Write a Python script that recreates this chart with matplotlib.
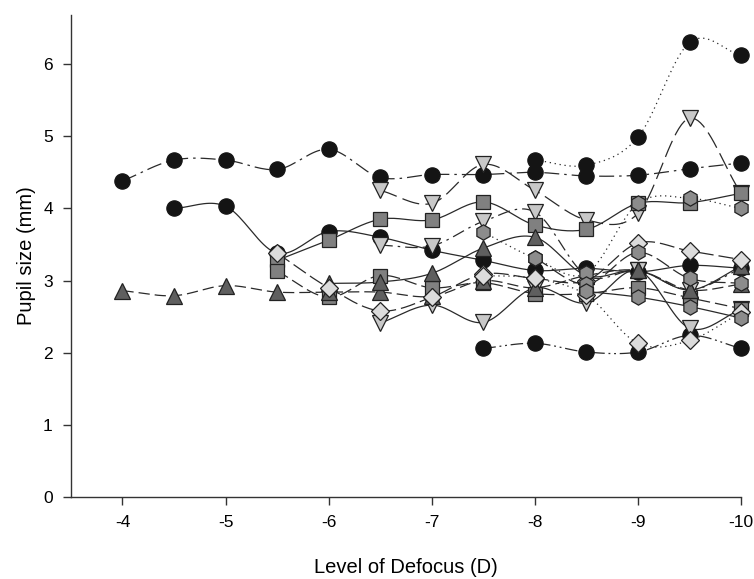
import numpy as np
import matplotlib.pyplot as plt

plt.rcParams['font.family'] = ['Liberation Sans', 'DejaVu Sans']

# defocus levels (D)
x_all = [-4, -4.5, -5, -5.5, -6, -6.5, -7, -7.5, -8, -8.5, -9, -9.5, -10]

# black circles
c1_x = x_all
c1_y = [4.38, 4.67, 4.67, 4.54, 4.82, 4.43, 4.47, 4.47, 4.50, 4.45, 4.46, 4.55, 4.63]
c2_x = [-8, -8.5, -9, -9.5, -10]
c2_y = [4.67, 4.60, 4.99, 6.30, 6.12]
c3_x = [-4.5, -5, -5.5, -6, -6.5, -7, -7.5, -8, -8.5, -9, -9.5, -10]
c3_y = [4.00, 4.03, 3.38, 3.68, 3.60, 3.42, 3.28, 3.14, 3.17, 3.12, 3.21, 3.17]
c4_x = [-7.5, -8, -8.5, -9, -9.5, -10]
c4_y = [2.06, 2.13, 2.01, 2.01, 2.24, 2.06]

# inverted triangles
t1_x = [-6.5, -7, -7.5, -8, -8.5, -9, -9.5, -10]
t1_y = [4.25, 4.07, 4.61, 4.25, 3.84, 3.93, 5.25, 4.21]
t2_x = [-6.5, -7, -7.5, -8, -8.5, -9, -9.5, -10]
t2_y = [3.49, 3.48, 3.82, 3.95, 3.07, 3.14, 2.87, 3.17]
t3_x = [-6.5, -7, -7.5, -8, -8.5, -9, -9.5, -10]
t3_y = [2.41, 2.66, 2.42, 2.90, 2.69, 3.14, 2.34, 2.60]

# squares
s1_x = [-5.5, -6, -6.5, -7, -7.5, -8, -8.5, -9, -9.5, -10]
s1_y = [3.28, 3.56, 3.85, 3.84, 4.09, 3.77, 3.71, 4.07, 4.08, 4.21]
s2_x = [-5.5, -6, -6.5, -7, -7.5, -8, -8.5, -9, -9.5, -10]
s2_y = [3.13, 2.77, 3.07, 2.90, 2.97, 2.82, 2.82, 2.90, 2.76, 2.61]

# triangles
u1_x = [-4, -4.5, -5, -5.5, -6, -6.5, -7, -7.5, -8, -8.5, -9, -9.5, -10]
u1_y = [2.86, 2.79, 2.93, 2.84, 2.84, 2.84, 2.78, 3.00, 2.90, 3.07, 3.14, 2.87, 2.95]
u2_x = [-6, -6.5, -7, -7.5, -8, -8.5, -9, -9.5, -10]
u2_y = [2.96, 2.98, 3.10, 3.45, 3.60, 3.07, 3.14, 2.87, 3.20]

# diamonds
d1_x = [-5.5, -6, -6.5, -7, -7.5, -8, -8.5, -9, -9.5, -10]
d1_y = [3.38, 2.90, 2.58, 2.77, 3.09, 3.03, 3.00, 3.52, 3.41, 3.29]
d2_x = [-7.5, -8, -8.5, -9, -9.5, -10]
d2_y = [3.07, 3.03, 2.80, 2.13, 2.17, 2.56]

# hexagons
h1_x = [-7.5, -8, -8.5, -9, -9.5, -10]
h1_y = [3.67, 3.31, 3.10, 4.07, 4.14, 4.00]
h2_x = [-8, -8.5, -9, -9.5, -10]
h2_y = [3.31, 2.95, 3.39, 3.03, 2.96]
h3_x = [-8.5, -9, -9.5, -10]
h3_y = [2.85, 2.77, 2.64, 2.48]

series = [
    (c1_x, c1_y, 'o', '#141414', (0, (12, 4, 2, 4))),
    (c2_x, c2_y, 'o', '#141414', (0, (1, 3))),
    (c3_x, c3_y, 'o', '#141414', '-'),
    (c4_x, c4_y, 'o', '#141414', (0, (10, 3, 1.5, 3, 1.5, 3))),
    (t1_x, t1_y, 'v', '#c8c8c8', (0, (14, 5))),
    (t2_x, t2_y, 'v', '#c8c8c8', (0, (10, 4, 2, 4))),
    (t3_x, t3_y, 'v', '#c8c8c8', '-'),
    (s1_x, s1_y, 's', '#808080', '-'),
    (s2_x, s2_y, 's', '#808080', (0, (10, 4))),
    (u1_x, u1_y, '^', '#5f5f5f', (0, (9, 4))),
    (u2_x, u2_y, '^', '#5f5f5f', '-'),
    (d1_x, d1_y, 'D', '#dcdcdc', (0, (12, 4))),
    (d2_x, d2_y, 'D', '#dcdcdc', (0, (1, 3))),
    (h1_x, h1_y, 'h', '#8c8c8c', (0, (1, 3))),
    (h2_x, h2_y, 'h', '#8c8c8c', (0, (12, 4))),
    (h3_x, h3_y, 'h', '#8c8c8c', '-'),
]

sizes = {'o': 11, 'v': 11, 's': 9.5, '^': 11, 'D': 9, 'h': 11}


def smooth(xs, ys, n=20):
    # Catmull-Rom spline through the points, for the curved lines
    xs = np.asarray(xs, float)
    ys = np.asarray(ys, float)
    px = np.concatenate([[2 * xs[0] - xs[1]], xs, [2 * xs[-1] - xs[-2]]])
    py = np.concatenate([[2 * ys[0] - ys[1]], ys, [2 * ys[-1] - ys[-2]]])
    t = np.linspace(0, 1, n)
    ox, oy = [], []
    for i in range(1, len(px) - 2):
        for p, o in ((px, ox), (py, oy)):
            p0, p1, p2, p3 = p[i - 1], p[i], p[i + 1], p[i + 2]
            o.extend(0.5 * (2 * p1 + (-p0 + p2) * t
                            + (2 * p0 - 5 * p1 + 4 * p2 - p3) * t ** 2
                            + (-p0 + 3 * p1 - 3 * p2 + p3) * t ** 3))
    return ox, oy


fig = plt.figure(figsize=(7.54, 5.79), dpi=100)
ax = fig.add_axes([0.094, 0.1416, 0.889, 0.8324])

for xs, ys, mk, col, ls in series:
    sx, sy = smooth(xs, ys)
    ax.plot(sx, sy, color='#2a2a2a', lw=0.9, ls=ls, zorder=2, clip_on=False)
for xs, ys, mk, col, ls in series:
    ax.plot(xs, ys, ls='none', marker=mk, ms=sizes[mk], mfc=col,
            mec='#222222' if col != '#141414' else '#141414', mew=0.9,
            zorder=3, clip_on=False)

ax.set_xlim(-3.5, -10)
ax.set_ylim(0, 6.68)
ax.set_xticks([-4, -5, -6, -7, -8, -9, -10])
ax.set_xticklabels(['-4', '-5', '-6', '-7', '-8', '-9', '-10'])
ax.set_yticks(range(0, 7))
ax.spines['top'].set_visible(False)
ax.spines['right'].set_visible(False)
for s in ('left', 'bottom'):
    ax.spines[s].set_linewidth(1.0)
    ax.spines[s].set_color('#333333')
ax.tick_params(direction='out', length=6, width=1, labelsize=12.5,
               color='#333333', pad=7)
ax.set_xlabel('Level of Defocus (D)', fontsize=14.5, labelpad=20)
ax.set_ylabel('Pupil size (mm)', fontsize=14.5, labelpad=5)

fig.savefig('out.png', dpi=100)
